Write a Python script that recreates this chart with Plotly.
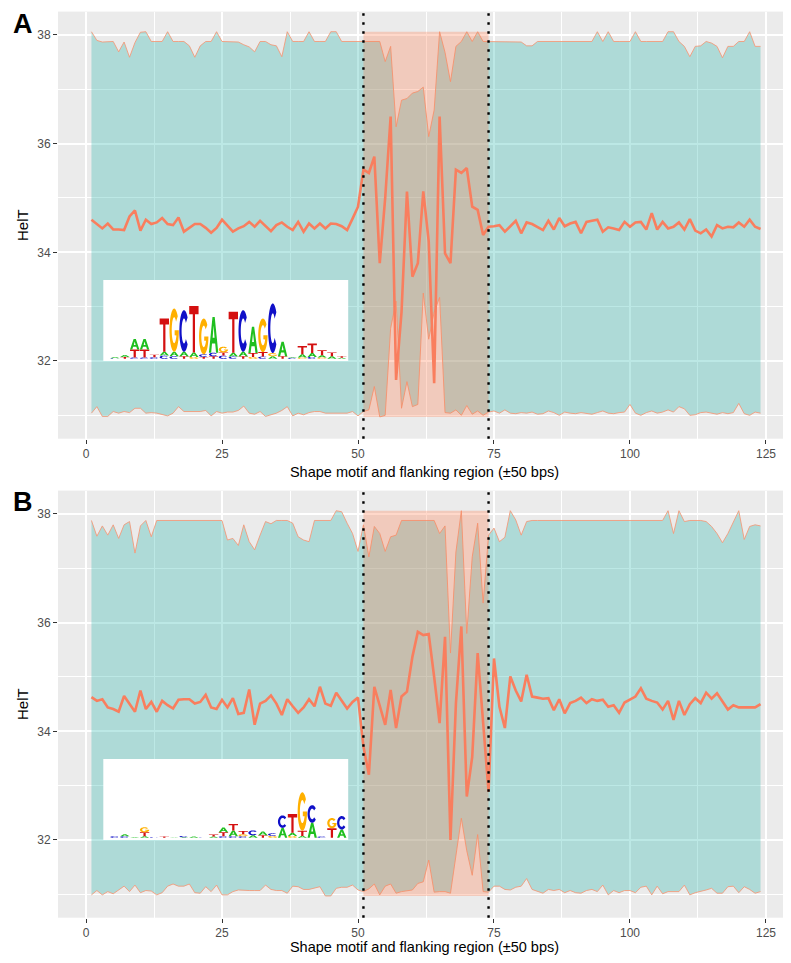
import numpy as np
import plotly.graph_objects as go

# ---------------- data ----------------
positions = list(range(1, 125))
motif_start, motif_end = 51, 74

meanA = [34.60, 34.52, 34.44, 34.53, 34.42, 34.42, 34.41, 34.66, 34.77, 34.40,
         34.60, 34.52, 34.55, 34.63, 34.52, 34.50, 34.64, 34.38, 34.45, 34.52,
         34.52, 34.45, 34.36, 34.45, 34.60, 34.48, 34.38, 34.44, 34.48, 34.56,
         34.47, 34.58, 34.48, 34.39, 34.50, 34.55, 34.47, 34.41, 34.56, 34.38,
         34.53, 34.44, 34.53, 34.44, 34.53, 34.52, 34.48, 34.41, 34.62, 34.84,
         35.52, 35.46, 35.76, 33.80, 35.00, 36.50, 31.65, 32.90, 35.12, 33.55,
         33.80, 35.12, 34.20, 31.59, 36.50, 33.98, 33.80, 35.52, 35.46, 35.55,
         34.84, 34.78, 34.32, 34.47, 34.48, 34.50, 34.38, 34.48, 34.58, 34.35,
         34.55, 34.52, 34.47, 34.41, 34.58, 34.42, 34.63, 34.48, 34.53, 34.56,
         34.35, 34.56, 34.58, 34.60, 34.38, 34.46, 34.44, 34.41, 34.56, 34.47,
         34.55, 34.56, 34.42, 34.72, 34.42, 34.56, 34.44, 34.47, 34.55, 34.42,
         34.61, 34.40, 34.35, 34.42, 34.29, 34.50, 34.44, 34.47, 34.46, 34.55,
         34.47, 34.60, 34.47, 34.43]

upperA = [38.06, 37.90, 37.87, 37.88, 37.88, 37.69, 37.87, 37.59, 37.86, 38.05,
          38.06, 37.88, 37.88, 37.88, 38.06, 37.88, 37.88, 37.88, 37.80, 37.59,
          37.80, 37.88, 37.88, 38.06, 37.88, 37.88, 37.88, 37.87, 37.82, 37.78,
          37.69, 37.88, 37.88, 37.82, 37.80, 37.60, 38.06, 37.88, 37.88, 37.88,
          38.06, 37.88, 37.88, 37.88, 38.06, 38.06, 37.88, 37.88, 37.88, 37.88,
          37.88, 37.88, 37.88, 37.88, 37.51, 37.79, 36.31, 36.80, 36.83, 36.93,
          36.96, 37.04, 36.13, 36.62, 38.06, 37.68, 37.14, 37.79, 37.88, 38.06,
          37.88, 38.06, 37.88, 37.88, 37.88, 37.88, 37.88, 37.88, 37.87, 37.87,
          37.80, 37.80, 37.88, 37.88, 37.88, 37.88, 37.88, 37.88, 37.88, 37.88,
          37.88, 37.88, 37.88, 38.06, 37.88, 38.06, 37.88, 37.88, 37.88, 37.88,
          38.06, 37.88, 37.88, 37.88, 37.88, 37.88, 38.06, 38.06, 37.88, 37.79,
          37.60, 37.79, 37.80, 37.88, 37.85, 37.79, 37.58, 37.79, 37.79, 37.88,
          37.88, 38.06, 37.79, 37.79]

lowerA = [31.04, 31.16, 30.98, 30.98, 31.07, 31.04, 31.07, 31.05, 31.13, 31.13,
          31.04, 31.05, 31.04, 31.02, 30.99, 31.04, 31.16, 31.07, 31.07, 31.07,
          31.07, 31.09, 30.99, 31.07, 31.04, 31.06, 31.06, 31.09, 31.17, 31.04,
          31.02, 31.07, 30.98, 31.01, 31.04, 31.09, 31.16, 30.99, 31.04, 31.01,
          31.05, 31.07, 31.07, 31.04, 31.04, 31.04, 31.04, 31.04, 31.07, 30.99,
          31.07, 31.10, 31.53, 30.97, 31.00, 32.60, 33.10, 31.13, 31.62, 31.16,
          31.20, 33.25, 32.40, 32.90, 33.17, 31.05, 31.04, 31.10, 31.00, 31.18,
          31.02, 31.08, 31.00, 31.06, 31.08, 31.04, 31.10, 31.04, 31.03, 31.05,
          31.04, 31.06, 31.02, 31.03, 31.08, 31.05, 31.00, 31.06, 31.04, 31.03,
          31.05, 31.04, 31.02, 31.05, 31.08, 31.04, 31.03, 31.05, 31.06, 31.20,
          31.04, 31.00, 31.05, 31.08, 31.04, 31.06, 31.10, 31.06, 31.16, 31.12,
          31.00, 31.01, 31.05, 31.06, 31.04, 31.02, 31.05, 31.03, 31.05, 31.22,
          31.03, 31.00, 31.06, 31.04]

meanB = [34.63, 34.56, 34.59, 34.44, 34.41, 34.36, 34.65, 34.51, 34.36, 34.75,
         34.41, 34.54, 34.36, 34.56, 34.48, 34.42, 34.58, 34.59, 34.59, 34.51,
         34.54, 34.67, 34.44, 34.41, 34.58, 34.44, 34.61, 34.32, 34.34, 34.77,
         34.12, 34.51, 34.56, 34.66, 34.51, 34.30, 34.59, 34.46, 34.34, 34.44,
         34.59, 34.46, 34.82, 34.51, 34.47, 34.71, 34.56, 34.42, 34.54, 34.62,
         33.72, 33.20, 34.82, 34.45, 34.12, 34.76, 34.06, 34.64, 34.73, 35.37,
         35.83, 35.77, 35.79, 35.00, 34.15, 35.74, 32.00, 34.51, 35.93, 32.80,
         33.53, 35.44, 34.15, 32.89, 35.34, 34.45, 34.06, 35.01, 34.75, 34.55,
         35.04, 34.64, 34.62, 34.60, 34.61, 34.39, 34.59, 34.33, 34.52, 34.56,
         34.62, 34.52, 34.59, 34.56, 34.58, 34.45, 34.48, 34.34, 34.53, 34.58,
         34.64, 34.79, 34.60, 34.56, 34.53, 34.40, 34.56, 34.21, 34.56, 34.30,
         34.50, 34.61, 34.52, 34.71, 34.60, 34.70, 34.55, 34.40, 34.48, 34.44,
         34.44, 34.44, 34.44, 34.50]

upperB = [37.88, 37.59, 37.78, 37.61, 37.80, 37.55, 37.80, 37.86, 37.28, 37.78,
          37.88, 37.58, 37.88, 37.88, 37.88, 37.88, 37.88, 37.88, 37.88, 37.88,
          37.88, 37.88, 37.88, 37.88, 37.88, 37.52, 37.55, 37.42, 37.80, 37.49,
          37.34, 37.61, 37.86, 37.82, 37.88, 37.88, 37.88, 37.83, 37.58, 37.52,
          37.49, 37.88, 37.88, 37.88, 37.88, 38.06, 38.04, 37.83, 37.64, 37.31,
          37.80, 37.21, 37.77, 37.64, 37.31, 37.58, 37.61, 37.88, 37.88, 37.88,
          37.88, 37.88, 37.88, 37.88, 37.64, 37.78, 35.44, 37.30, 38.06, 35.80,
          37.21, 37.83, 36.36, 37.61, 37.74, 37.49, 37.57, 38.06, 37.89, 37.61,
          37.86, 37.88, 37.88, 37.88, 37.88, 37.88, 37.88, 37.88, 37.88, 37.88,
          37.88, 37.88, 37.88, 37.88, 37.88, 37.88, 37.88, 37.88, 37.88, 37.88,
          37.88, 37.88, 37.88, 37.88, 37.88, 37.88, 38.06, 37.64, 38.06, 37.86,
          37.88, 37.88, 37.88, 37.86, 37.77, 37.64, 37.47, 37.64, 37.86, 38.06,
          37.53, 37.77, 37.80, 37.78]

lowerB = [30.99, 31.07, 30.99, 31.05, 31.01, 31.08, 31.15, 31.05, 31.17, 31.03,
          31.07, 31.06, 30.99, 31.03, 31.15, 31.19, 31.15, 31.15, 31.19, 31.03,
          31.02, 31.14, 31.05, 31.17, 30.99, 30.99, 31.05, 31.08, 31.07, 31.07,
          31.07, 31.07, 31.17, 31.09, 31.07, 31.07, 31.02, 31.15, 31.14, 31.09,
          31.09, 31.11, 31.14, 30.97, 30.97, 31.11, 31.13, 31.13, 31.17, 31.08,
          31.05, 31.10, 31.19, 30.99, 31.15, 31.19, 31.02, 31.05, 31.06, 31.08,
          31.20, 31.23, 31.63, 31.04, 31.05, 31.05, 31.02, 31.70, 32.40, 31.80,
          31.35, 32.10, 31.05, 31.04, 31.15, 31.15, 31.09, 31.08, 31.13, 31.15,
          31.29, 31.09, 31.05, 31.02, 31.09, 31.07, 31.09, 31.03, 31.07, 31.03,
          31.02, 31.07, 31.09, 31.05, 31.17, 30.99, 31.07, 31.03, 31.07, 31.07,
          31.03, 31.13, 31.15, 30.99, 31.15, 31.01, 31.05, 31.05, 31.05, 31.17,
          30.99, 31.03, 31.05, 31.08, 31.11, 31.02, 31.02, 31.14, 31.15, 31.03,
          31.14, 31.09, 31.02, 31.05]

# sequence logos: per column, letters bottom->top with information (bits)
logoA = [
    [("C", 0.02), ("A", 0.04)],
    [("T", 0.06), ("A", 0.06)],
    [("C", 0.04), ("T", 0.25), ("A", 0.33)],
    [("C", 0.04), ("T", 0.25), ("A", 0.33)],
    [("C", 0.05), ("T", 0.08)],
    [("C", 0.10), ("A", 0.12), ("T", 1.04)],
    [("C", 0.08), ("A", 0.14), ("G", 1.35)],
    [("T", 0.08), ("A", 0.14), ("C", 1.30)],
    [("G", 0.06), ("A", 0.14), ("T", 1.45)],
    [("T", 0.06), ("C", 0.08), ("G", 1.12)],
    [("T", 0.08), ("C", 0.11), ("A", 1.12)],
    [("C", 0.10), ("T", 0.10), ("G", 0.18)],
    [("C", 0.07), ("A", 0.12), ("T", 1.28)],
    [("T", 0.08), ("A", 0.14), ("C", 1.30)],
    [("G", 0.06), ("T", 0.12), ("A", 0.82)],
    [("C", 0.07), ("T", 0.14), ("G", 1.05)],
    [("A", 0.08), ("G", 0.10), ("C", 1.55)],
    [("T", 0.08), ("A", 0.45)],
    [("C", 0.03), ("A", 0.03)],
    [("G", 0.04), ("A", 0.10), ("T", 0.26)],
    [("C", 0.06), ("A", 0.12), ("T", 0.30)],
    [("G", 0.04), ("A", 0.07), ("T", 0.16)],
    [("A", 0.08), ("T", 0.12)],
    [("A", 0.03), ("T", 0.05)],
]

logoB = [
    [("C", 0.05)],
    [("C", 0.05), ("A", 0.06)],
    [("A", 0.02)],
    [("A", 0.05), ("T", 0.12), ("G", 0.16)],
    [("C", 0.02)],
    [("T", 0.04)],
    [("A", 0.01)],
    [("A", 0.02), ("C", 0.04)],
    [("A", 0.04)],
    [("C", 0.01)],
    [("A", 0.04), ("T", 0.06)],
    [("C", 0.05), ("T", 0.12), ("A", 0.15)],
    [("C", 0.05), ("A", 0.18), ("T", 0.20)],
    [("C", 0.05), ("G", 0.06), ("T", 0.10)],
    [("A", 0.08), ("C", 0.15)],
    [("T", 0.08), ("A", 0.12)],
    [("G", 0.06), ("C", 0.08)],
    [("A", 0.31), ("C", 0.39)],
    [("G", 0.06), ("A", 0.10), ("T", 0.58)],
    [("A", 0.06), ("T", 0.16), ("G", 1.20)],
    [("A", 0.47), ("C", 0.55)],
    [("C", 0.04)],
    [("T", 0.30), ("G", 0.32)],
    [("A", 0.26), ("C", 0.42)],
]

# ---------------- styling ----------------
FONT = "Liberation Sans, Arial, sans-serif"
BG = "#EBEBEB"
RIBBON_FILL = "rgba(32,178,170,0.30)"
RIBBON_EDGE = "rgba(245,150,118,0.85)"
MOTIF_FILL = "rgba(255,127,80,0.30)"
MEAN_COLOR = "#F97E5E"
LETTER_COLORS = {"A": "#1FBF1F", "C": "#1010C8", "G": "#FFB000", "T": "#D41010"}

# figure is placed at (8, 8) inside the page body
FIG_W, FIG_H = 783, 947
MARGIN_L = 50
PLOT_W = FIG_W - MARGIN_L
XRANGE = [-5.15, 129.6]
YRANGE = [30.57, 38.43]
DOMAINS = {"A": [0.5452, 0.9962], "B": [0.0394, 0.4904]}

# inset / logo geometry (data units)
INSET_X = [3.18, 48.2]
INSET_Y = [32.0, 33.49]
LOGO_X0 = 5.33      # centre of first logo column
LOGO_COLW = 1.8125  # column pitch
LOGO_LW = 1.72      # letter width
LOGO_BASE = 32.04
BIT_H = 0.589


def glyph(letter):
    if letter == "T":
        return [[(0, 1), (1, 1), (1, 0.82), (0.62, 0.82), (0.62, 0), (0.38, 0), (0.38, 0.82), (0, 0.82)]]
    if letter == "A":
        return [[(0, 0), (0.38, 1), (0.62, 1), (1, 0), (0.76, 0), (0.67, 0.26), (0.33, 0.26), (0.24, 0)],
                [(0.40, 0.42), (0.60, 0.42), (0.5, 0.76)]]
    if letter == "C":
        to = np.radians(np.linspace(40, 320, 36))
        ti = np.radians(np.linspace(320, 40, 36))
        pts = [(0.5 + 0.5 * np.cos(t), 0.5 + 0.5 * np.sin(t)) for t in to]
        pts += [(0.5 + 0.26 * np.cos(t), 0.5 + 0.30 * np.sin(t)) for t in ti]
        return [pts]
    if letter == "G":
        to = np.radians(np.linspace(40, 360, 40))
        ti = np.radians(np.linspace(336, 40, 36))
        pts = [(0.5 + 0.5 * np.cos(t), 0.5 + 0.5 * np.sin(t)) for t in to]
        pts += [(0.55, 0.5), (0.55, 0.38)]
        pts += [(0.5 + 0.26 * np.cos(t), 0.5 + 0.30 * np.sin(t)) for t in ti]
        return [pts]
    return []


def letter_path(letter, xc, y0, h):
    parts = []
    for sub in glyph(letter):
        coords = ["%.4f,%.4f" % (xc + (u - 0.5) * LOGO_LW, y0 + v * h) for u, v in sub]
        parts.append("M" + " L".join(coords) + " Z")
    return " ".join(parts)


fig = go.Figure()
shapes = []

panels = [("A", meanA, upperA, lowerA, logoA, "x", "y"),
          ("B", meanB, upperB, lowerB, logoB, "x2", "y2")]

for name, mean, upper, lower, logo, xr, yr in panels:
    fig.add_trace(go.Scatter(x=positions, y=lower, mode="lines", xaxis=xr, yaxis=yr,
                             line=dict(color=RIBBON_EDGE, width=1), showlegend=False,
                             hoverinfo="skip"))
    fig.add_trace(go.Scatter(x=positions, y=upper, mode="lines", xaxis=xr, yaxis=yr,
                             fill="tonexty", fillcolor=RIBBON_FILL,
                             line=dict(color=RIBBON_EDGE, width=1), showlegend=False,
                             hoverinfo="skip"))
    lo, hi = min(lower), max(upper)
    fig.add_trace(go.Scatter(x=[motif_start, motif_end, motif_end, motif_start, motif_start],
                             y=[lo, lo, hi, hi, lo], mode="lines", xaxis=xr, yaxis=yr,
                             fill="toself", fillcolor=MOTIF_FILL,
                             line=dict(width=0, color="rgba(0,0,0,0)"), showlegend=False,
                             hoverinfo="skip"))
    fig.add_trace(go.Scatter(x=positions, y=mean, mode="lines", xaxis=xr, yaxis=yr,
                             line=dict(color=MEAN_COLOR, width=2.6), showlegend=False))

    for xv in (motif_start, motif_end):
        shapes.append(dict(type="line", xref=xr, yref=yr + " domain", x0=xv, x1=xv, y0=0, y1=1,
                           line=dict(color="black", width=2.4, dash="2.4px,6.6px"), layer="above"))
    shapes.append(dict(type="rect", xref=xr, yref=yr, x0=INSET_X[0], x1=INSET_X[1],
                       y0=INSET_Y[0], y1=INSET_Y[1], fillcolor="white",
                       line=dict(width=0), layer="above"))
    for i, col in enumerate(logo):
        xc = LOGO_X0 + i * LOGO_COLW
        y0 = LOGO_BASE
        for letter, bits in col:
            h = bits * BIT_H
            shapes.append(dict(type="path", xref=xr, yref=yr, path=letter_path(letter, xc, y0, h),
                               fillcolor=LETTER_COLORS[letter], line=dict(width=0),
                               layer="above"))
            y0 += h


def xaxis_cfg(anchor):
    return dict(domain=[0, 1], anchor=anchor, range=XRANGE, tick0=0, dtick=25,
                ticks="outside", ticklen=4, tickwidth=1.1, tickcolor="#333333",
                tickfont=dict(family=FONT, size=12, color="#4D4D4D"),
                showgrid=True, gridcolor="white", gridwidth=2,
                minor=dict(dtick=12.5, tick0=0, showgrid=True, gridcolor="white", gridwidth=1),
                zeroline=False, showline=False, automargin=False,
                title=dict(text="Shape motif and flanking region (\u00b150 bps)",
                           font=dict(family=FONT, size=14.5, color="black"), standoff=6))


def yaxis_cfg(anchor, dom):
    return dict(domain=dom, anchor=anchor, range=YRANGE, tick0=0, dtick=2,
                ticks="outside", ticklen=4, tickwidth=1.1, tickcolor="#333333",
                tickfont=dict(family=FONT, size=12, color="#4D4D4D"),
                showgrid=True, gridcolor="white", gridwidth=2,
                minor=dict(dtick=1, tick0=0, showgrid=True, gridcolor="white", gridwidth=1),
                zeroline=False, showline=False, automargin=False,
                title=dict(text="HelT", font=dict(family=FONT, size=15, color="black"),
                           standoff=4))


fig.update_layout(
    width=FIG_W, height=FIG_H, autosize=False,
    margin=dict(l=MARGIN_L, r=0, t=0, b=0, pad=0),
    paper_bgcolor="white", plot_bgcolor=BG,
    font=dict(family=FONT),
    xaxis=xaxis_cfg("y"), yaxis=yaxis_cfg("x", DOMAINS["A"]),
    xaxis2=xaxis_cfg("y2"), yaxis2=yaxis_cfg("x2", DOMAINS["B"]),
    shapes=shapes,
    showlegend=False,
    annotations=[
        dict(text="<b>A</b>", x=(15 - MARGIN_L) / PLOT_W, y=1 - 16 / FIG_H,
             xref="paper", yref="paper",
             showarrow=False, font=dict(family=FONT, size=27, color="black"),
             xanchor="center", yanchor="middle"),
        dict(text="<b>B</b>", x=(15 - MARGIN_L) / PLOT_W, y=1 - 494 / FIG_H,
             xref="paper", yref="paper",
             showarrow=False, font=dict(family=FONT, size=27, color="black"),
             xanchor="center", yanchor="middle"),
    ],
)

fig.write_html("out.html")
